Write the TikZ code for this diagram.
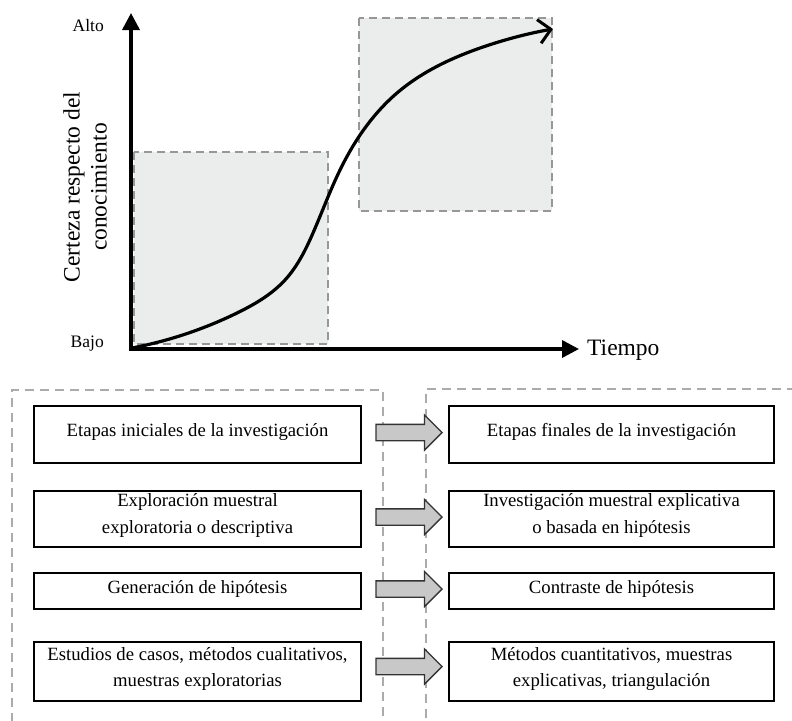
\documentclass[tikz,border=0pt]{standalone}
\usepackage{fontspec}
\setmainfont{Liberation Serif}
\usetikzlibrary{arrows.meta,shapes.arrows,calc,hobby}
\definecolor{zonefill}{HTML}{EBECEC}
\definecolor{zonedash}{HTML}{979797}
\definecolor{framegray}{HTML}{ABABAB}
\definecolor{arrowfill}{HTML}{C8C8C8}
\definecolor{arrowline}{HTML}{333333}
\begin{document}
\begin{tikzpicture}[x=1pt,y=-1pt,
  zone/.style={draw=zonedash, fill=zonefill, line width=2.5pt, dash pattern=on 8pt off 5pt},
  frame/.style={draw=framegray, line width=2.8pt, dash pattern=on 9pt off 6pt},
  axisline/.style={line width=3.5pt, line join=miter,
    {Triangle[length=17pt,width=17pt]}-{Triangle[length=17pt,width=17pt]}},
  curveline/.style={line width=3.2pt, line cap=round,
    -{Straight Barb[length=12pt,width=24pt,line width=3pt]}},
  bx/.style={draw=black, line width=2pt, inner sep=0pt},
  bxL/.style={bx, minimum width=327pt},
  bxR/.style={bx, minimum width=325pt},
  txt/.style={align=center, inner sep=0pt, font=\fontsize{18.7}{26.5}\selectfont},
  barrow/.style={single arrow, draw=arrowline, fill=arrowfill, line width=1.3pt,
    minimum height=66pt, inner xsep=0pt, inner ysep=7.5pt, single arrow head extend=9.5pt},
  small/.style={inner sep=0pt, font=\fontsize{17.5}{21}\selectfont},
  big/.style={inner sep=0pt, font=\fontsize{23.5}{27}\selectfont}
]
\useasboundingbox (0,0) rectangle (792,720);

% shaded zones
\path[zone] (134,152) rectangle (328,344);
\path[zone] (359,18) rectangle (552,211);

% axes
\coordinate (O) at (131,349);
\coordinate (ytip) at (131,13);
\coordinate (xtip) at (579,349);
\draw[axisline] (ytip) -- (O) -- (xtip);

% curve
\draw[curveline, use Hobby shortcut] (132,348) .. (237,313) .. (285,280) .. (313,233)
  .. (340,170) .. (397,93) .. (483,47) .. (553,29);

% axis labels
\node[small, anchor=east] (alto) at (104,26) {Alto};
\node[small, anchor=base east] (bajo) at (104,347) {Bajo};
\node[big, anchor=base west] (tiempo) at (587,355) {Tiempo};
\node[big, rotate=90, align=center] (ylab) at (85,187) {Certeza respecto del\\conocimiento};

% dashed frames
\draw[frame] (12,722) -- (12,390) -- (383,390) -- (383,722);
\draw[frame] (796,389) -- (426,389) -- (426,722);

% left boxes
\node[bxL, minimum height=57pt] (L1) at (197.5,434.5) {};
\node[bxL, minimum height=56pt] (L2) at (197.5,519) {};
\node[bxL, minimum height=36pt] (L3) at (197.5,591) {};
\node[bxL, minimum height=59pt] (L4) at (197.5,671.5) {};
% right boxes
\node[bxR, minimum height=57pt] (R1) at (611.5,434.5) {};
\node[bxR, minimum height=56pt] (R2) at (611.5,519) {};
\node[bxR, minimum height=36pt] (R3) at (611.5,591) {};
\node[bxR, minimum height=59pt] (R4) at (611.5,671.5) {};

% texts
\node[txt] (tL1) at ([yshift=2.5pt]L1.center) {Etapas iniciales de la investigación};
\node[txt] (tL2) at ([yshift=3.5pt]L2.center) {Exploración muestral\\exploratoria o descriptiva};
\node[txt] (tL3) at ([yshift=2pt]L3.center) {Generación de hipótesis};
\node[txt] (tL4) at ([yshift=2.5pt]L4.center) {Estudios de casos, métodos cualitativos,\\muestras exploratorias};
\node[txt] (tR1) at ([yshift=2.5pt]R1.center) {Etapas finales de la investigación};
\node[txt] (tR2) at ([yshift=3.5pt]R2.center) {Investigación muestral explicativa\\o basada en hipótesis};
\node[txt] (tR3) at ([yshift=2pt]R3.center) {Contraste de hipótesis};
\node[txt] (tR4) at ([yshift=2.5pt]R4.center) {Métodos cuantitativos, muestras\\explicativas, triangulación};

% block arrows
\node[barrow] (A1) at ($(L1.east)!0.5!(R1.west)+(0,-2)$) {};
\node[barrow] (A2) at ($(L2.east)!0.5!(R2.west)+(0,-2)$) {};
\node[barrow] (A3) at ($(L3.east)!0.5!(R3.west)+(0,-2)$) {};
\node[barrow] (A4) at ($(L4.east)!0.5!(R4.west)+(0,-5)$) {};
\end{tikzpicture}
\end{document}
